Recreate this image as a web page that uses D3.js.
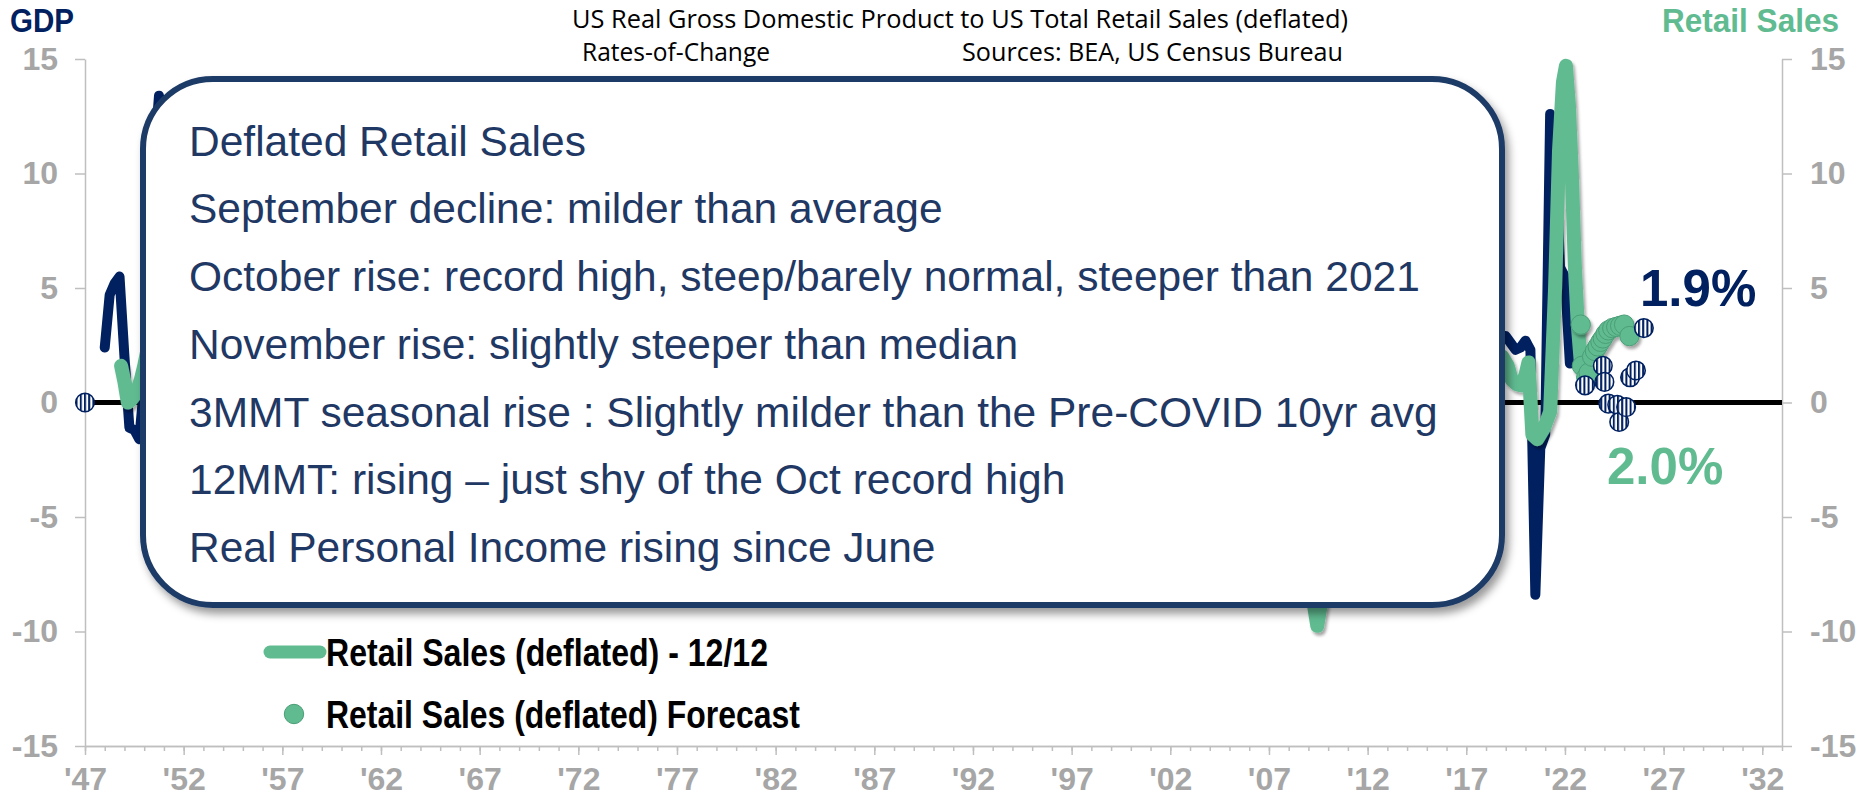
<!DOCTYPE html>
<html><head><meta charset="utf-8">
<script src="https://cdn.jsdelivr.net/npm/d3@7"></script>
<style>body{margin:0;background:#fff}svg{display:block}</style>
</head><body>
<svg id="chart" width="1866" height="798"></svg>
<script>
// ---------------- DATA ----------------
const xMajorYears = [1947,1952,1957,1962,1967,1972,1977,1982,1987,1992,1997,2002,2007,2012,2017,2022,2027,2032];
const xTickLabels = ["'47","'52","'57","'62","'67","'72","'77","'82","'87","'92","'97","'02","'07","'12","'17","'22","'27","'32"];
const yTicks = [-15,-10,-5,0,5,10,15];
const yTickLabels = ["-15","-10","-5","0","5","10","15"];

// Real GDP y/y % (quarterly); null = hidden behind the text box
const gdpDates  = [1948.00,1948.25,1948.50,1948.75,1949.00,1949.25,1949.50,1949.75,1950.00,1950.25,1950.50,1950.75,1951.00,1951.25,1951.50,
                   null,
                   2018.50,2018.75,2019.00,2019.25,2019.50,2019.75,2020.00,2020.25,2020.50,2020.75,2021.00,2021.25,2021.50,2021.75,2022.00,2022.25];
const gdpValues = [2.4,4.7,5.2,5.5,2.0,-1.1,-1.2,-1.6,0.8,4.5,10.5,13.4,12.0,10.0,9.0,
                   null,
                   3.0,2.9,2.9,2.6,2.3,2.4,2.7,2.3,-8.4,-2.0,-1.4,12.6,11.5,5.9,5.5,1.7];

// Retail Sales (deflated) 12/12 %
const retailDates  = [1948.83,1949.00,1949.17,1949.33,1949.50,1949.67,1949.83,1950.00,1950.33,
                      null,
                      2008.75,2009.00,2009.20,2009.45,2009.70,2009.95,2010.20,
                      null,
                      2018.50,2018.83,2019.10,2019.30,2019.55,2019.80,2020.00,2020.15,2020.35,2020.60,2020.95,2021.25,2021.50,2021.70,2021.90,2022.05,2022.20,2022.35,2022.50,2022.65,2022.80];
const retailValues = [1.6,0.9,0.0,0.1,0.3,0.6,1.0,1.6,3.0,
                      null,
                      -5.0,-7.0,-8.4,-9.75,-8.4,-6.5,-4.0,
                      null,
                      2.0,2.0,1.6,1.0,0.8,0.75,1.2,1.75,-1.4,-1.6,-1.1,-0.4,5.0,11.0,14.0,14.7,13.0,10.0,6.0,3.4,1.8];

// Retail Sales (deflated) forecast points
const retailFcDates  = [2022.80,2022.86,2023.08,2023.20,2023.38,2023.52,2023.66,2023.80,2023.92,2024.06,2024.20,2024.40,2024.60,2024.80,2025.00,2025.27];
const retailFcValues = [3.4,1.6,1.1,1.3,2.0,2.25,2.45,2.65,2.8,3.0,3.15,3.25,3.3,3.35,3.4,2.9];

// GDP forecast points (hatched)
const gdpFcDates  = [1947.00,2023.02,2023.92,2024.00,2024.20,2024.65,2024.75,2025.10,2025.30,2025.60,2026.00];
const gdpFcValues = [0,0.75,1.6,0.9,-0.05,-0.1,-0.85,-0.2,1.1,1.4,3.25];

const boxLines = [
  "Deflated Retail Sales",
  "September decline: milder than average",
  "October rise: record high, steep/barely normal, steeper than 2021",
  "November rise: slightly steeper than median",
  "3MMT seasonal rise : Slightly milder than the Pre-COVID 10yr avg",
  "12MMT: rising \u2013 just shy of the Oct record high",
  "Real Personal Income rising since June"
];
const legendLabels = ["Retail Sales (deflated) - 12/12", "Retail Sales (deflated) Forecast"];

// ---------------- STYLE ----------------
const NAVY = "#002060", GREEN = "#61BB91", GREEN_DK = "#4A9E76", GRAY = "#A6A6A6", AXIS = "#BFBFBF", BOXC = "#1F3B66";
const SANS = "'Liberation Sans',Arial,sans-serif";

const svg = d3.select("#chart");
const x = d3.scaleLinear().domain([1947, 2033]).range([85, 1782]);
const y = d3.scaleLinear().domain([-15, 15]).range([746, 59]);

const defs = svg.append("defs");
const pat = defs.append("pattern").attr("id","hatch").attr("patternUnits","userSpaceOnUse")
  .attr("width",4.2).attr("height",4.2);
pat.append("rect").attr("width",4.2).attr("height",4.2).attr("fill","#fff");
pat.append("rect").attr("width",2).attr("height",4.2).attr("fill",NAVY);
const f1 = defs.append("filter").attr("id","boxShadow").attr("x","-5%").attr("y","-5%").attr("width","115%").attr("height","120%");
f1.append("feDropShadow").attr("dx",4).attr("dy",6).attr("stdDeviation",4).attr("flood-color","#000").attr("flood-opacity",0.4);
const f2 = defs.append("filter").attr("id","lineShadow").attr("x","-20%").attr("y","-20%").attr("width","140%").attr("height","140%");
f2.append("feDropShadow").attr("dx",2).attr("dy",3).attr("stdDeviation",1.5).attr("flood-color","#000").attr("flood-opacity",0.35);

// ---------------- AXES ----------------
function styleAxis(g){
  g.select(".domain").attr("stroke",AXIS).attr("stroke-width",1.5);
  g.selectAll(".tick line").attr("stroke",AXIS).attr("stroke-width",1.5);
  g.selectAll("text").attr("fill",GRAY).attr("font-family",SANS).attr("font-weight","bold").attr("font-size",32);
}
const yLab = d => yTickLabels[yTicks.indexOf(d)];
svg.append("g").attr("transform",`translate(${x.range()[0]},0)`)
  .call(d3.axisLeft(y).tickValues(yTicks).tickSize(10).tickSizeOuter(0).tickPadding(17).tickFormat(yLab))
  .call(styleAxis);
svg.append("g").attr("transform",`translate(${x.range()[1]},0)`)
  .call(d3.axisRight(y).tickValues(yTicks).tickSize(10).tickSizeOuter(0).tickPadding(18).tickFormat(yLab))
  .call(styleAxis);
svg.append("g").attr("transform",`translate(0,${y(-15)})`)
  .call(d3.axisBottom(x).tickValues(d3.range(1947,2034)).tickSize(5).tickSizeOuter(0).tickFormat(""))
  .call(styleAxis);
svg.append("g").attr("transform",`translate(0,${y(-15)})`)
  .call(d3.axisBottom(x).tickValues(xMajorYears).tickSize(9).tickSizeOuter(0).tickPadding(12)
        .tickFormat((d,i)=>xTickLabels[i]))
  .call(styleAxis);

// zero line
svg.append("line").attr("x1",x(1947)).attr("x2",x(2033)).attr("y1",y(0)).attr("y2",y(0))
  .attr("stroke","#000").attr("stroke-width",5);

// ---------------- LINES ----------------
const gdpData = gdpDates.map((d,i)=>({d, v:gdpValues[i]}));
const retailData = retailDates.map((d,i)=>({d, v:retailValues[i]}));
const line = d3.line().defined(p=>p.d!=null && p.v!=null).x(p=>x(p.d)).y(p=>y(p.v));

svg.append("path").datum(gdpData).attr("d",line).attr("fill","none").attr("stroke",NAVY)
  .attr("stroke-width",10).attr("stroke-linejoin","round").attr("stroke-linecap","round");
svg.append("path").datum(retailData).attr("d",line).attr("fill","none").attr("stroke",GREEN)
  .attr("stroke-width",14).attr("stroke-linejoin","round").attr("stroke-linecap","round")
  .attr("filter","url(#lineShadow)");

// ---------------- TEXT BOX ----------------
svg.append("rect").attr("x",143).attr("y",79).attr("width",1359).attr("height",526).attr("rx",70).attr("ry",70)
  .attr("fill","#fff").attr("stroke",BOXC).attr("stroke-width",6).attr("filter","url(#boxShadow)");
svg.append("g").selectAll("text").data(boxLines).join("text")
  .attr("x",189).attr("y",(d,i)=>155.5+i*67.75)
  .attr("font-family",SANS).attr("font-size",42.5).attr("fill","#1F3864").text(d=>d);

// ---------------- FORECAST POINTS ----------------
svg.append("g").attr("filter","url(#lineShadow)").selectAll("circle")
  .data(retailFcDates.map((d,i)=>({d, v:retailFcValues[i]}))).join("circle")
  .attr("cx",p=>x(p.d)).attr("cy",p=>y(p.v)).attr("r",9.7)
  .attr("fill",GREEN).attr("stroke",GREEN_DK).attr("stroke-width",1);
svg.append("g").selectAll("circle")
  .data(gdpFcDates.map((d,i)=>({d, v:gdpFcValues[i]}))).join("circle")
  .attr("cx",p=>x(p.d)).attr("cy",p=>y(p.v)).attr("r",9.3)
  .attr("fill","url(#hatch)").attr("stroke",NAVY).attr("stroke-width",1.5);

// ---------------- LABELS ----------------
svg.append("text").attr("x",10).attr("y",32).attr("font-family",SANS).attr("font-weight","bold")
  .attr("font-size",34).attr("textLength",64).attr("lengthAdjust","spacingAndGlyphs").attr("fill",NAVY).text("GDP");
svg.append("text").attr("x",1662).attr("y",32).attr("font-family",SANS).attr("font-weight","bold")
  .attr("font-size",34).attr("textLength",177).attr("lengthAdjust","spacingAndGlyphs").attr("fill",GREEN).text("Retail Sales");

const TITLE = "'Open Sans','Noto Sans',sans-serif";
svg.append("text").attr("x",572).attr("y",28).attr("font-family",TITLE).attr("font-size",25)
  .attr("textLength",776).attr("lengthAdjust","spacingAndGlyphs").attr("fill","#000")
  .text("US Real Gross Domestic Product to US Total Retail Sales (deflated)");
svg.append("text").attr("x",582).attr("y",61).attr("font-family",TITLE).attr("font-size",25)
  .attr("textLength",188).attr("lengthAdjust","spacingAndGlyphs").attr("fill","#000").text("Rates-of-Change");
svg.append("text").attr("x",962).attr("y",61).attr("font-family",TITLE).attr("font-size",25)
  .attr("textLength",381).attr("lengthAdjust","spacingAndGlyphs").attr("fill","#000").text("Sources: BEA, US Census Bureau");

svg.append("text").attr("x",1640).attr("y",306).attr("font-family",SANS).attr("font-weight","bold")
  .attr("font-size",51).attr("fill",NAVY).text("1.9%");
svg.append("text").attr("x",1607).attr("y",484).attr("font-family",SANS).attr("font-weight","bold")
  .attr("font-size",51).attr("fill",GREEN).text("2.0%");

// ---------------- LEGEND ----------------
svg.append("line").attr("x1",270).attr("x2",320).attr("y1",652).attr("y2",652)
  .attr("stroke",GREEN).attr("stroke-width",13).attr("stroke-linecap","round");
svg.append("circle").attr("cx",294).attr("cy",714).attr("r",9.7).attr("fill",GREEN).attr("stroke",GREEN_DK).attr("stroke-width",1);
const legendWidths = [442, 474];
svg.append("g").selectAll("text").data(legendLabels).join("text")
  .attr("x",326).attr("y",(d,i)=>666+i*62)
  .attr("font-family",SANS).attr("font-weight","bold").attr("font-size",38).attr("fill","#000")
  .attr("textLength",(d,i)=>legendWidths[i]).attr("lengthAdjust","spacingAndGlyphs").text(d=>d);
</script>
</body></html>
